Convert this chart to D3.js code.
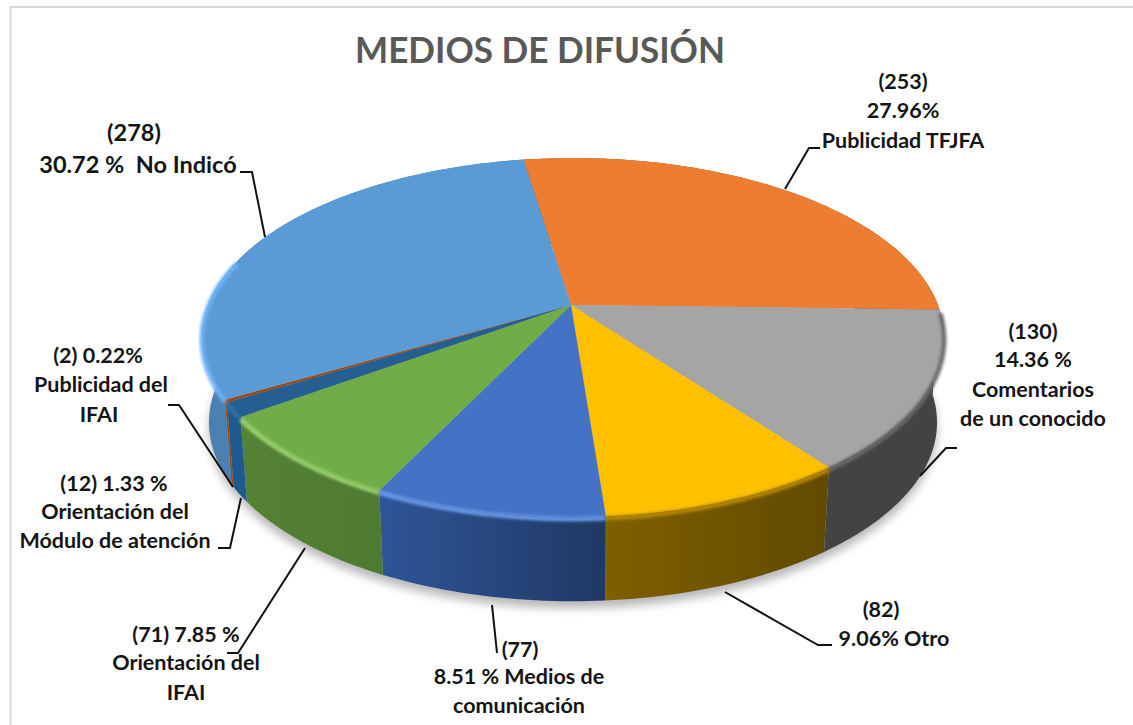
<!DOCTYPE html>
<html><head><meta charset="utf-8">
<script src="https://cdn.jsdelivr.net/npm/d3@7"></script>
<style>html,body{margin:0;padding:0;background:#fff}svg{display:block}
text{font-family:Lato,"Open Sans",sans-serif;font-weight:700;white-space:pre}</style></head>
<body><div id="c"></div>
<script>
const title = "MEDIOS DE DIFUSIÓN";
const categories = ["Publicidad TFJFA","Comentarios de un conocido","Otro","Medios de comunicación","Orientación del IFAI","Orientación del Módulo de atención","Publicidad del IFAI","No Indicó"];
const values = [253,130,82,77,71,12,2,278];
const topColors = ["#ed7d31","#a5a5a5","#ffc000","#4472c4","#70ad47","#255e91","#9e480e","#5b9bd5"];
const wallLeft  = ["#8a4a1d","#434343","#7f6000","#2f5597","#558235","#1f5a8e","#9e480e","#4a7fb0"];
const wallRight = ["#8a4a1d","#434343","#614a00","#203864","#4f7a33","#1f5a8e","#9e480e","#5b95cc"];
const rimColors = ["#c8652a","#6a6a6a","#b88a00","#6b9bee","#9bd66f","#2f6ea8","#c0561a","#6fb4f5"];
const labelLines = [
 ["(253)","27.96%","Publicidad TFJFA"],
 ["(130)","14.36 %","Comentarios","de un conocido"],
 ["(82)","9.06% Otro"],
 ["(77)","8.51 % Medios de","comunicación"],
 ["(71) 7.85 %","Orientación del","IFAI"],
 ["(12) 1.33 %","Orientación del","Módulo de atención"],
 ["(2) 0.22%","Publicidad del","IFAI"],
 ["(278)","30.72 %  No Indicó"]
];
// layout only
const labelSize = [21.5,21.5,21.5,21.5,21.5,21.5,21.5,23.5];
const labelX = [[903,903,903],[1033,1033,1033,1033],[881,894],[520,519,519],[186,186,186],[114,115,115],[98,101,99],[134,138]];
const labelY = [[89,118,148],[339,367,397,426],[617,646],[657,684,713],[642,670,700],[491,519,548],[363,392,422],[141,173]];
const leaders = [
 [[820,148],[809,148],[785,189]],
 [[957,448],[946,448],[920,476]],
 [[832,645],[818,645],[725,592]],
 [[497,653],[492,605]],
 [[227,653],[238,653],[305,548]],
 [[218,548],[230,548],[241,498]],
 [[168,405],[179,405],[233,487]],
 [[240,172],[252,172],[265,237]]
];
const W=1133,H=725;
const svg=d3.select("#c").append("svg").attr("width",W).attr("height",H);
const defs=svg.append("defs");
const blur=(id,s)=>defs.append("filter").attr("id",id).attr("x","-10%").attr("y","-10%").attr("width","120%").attr("height","130%")
  .append("feGaussianBlur").attr("stdDeviation",s);
blur("sh",5); blur("rim",1.6);

const apexX=571, cx=573, k=0.181;
const topF={ay:305,rx:365,ry:173.6};
const botF={ay:390,rx:358,ry:173};
const proj=(f,t)=>{const s=1/(1+k*Math.cos(t));return [cx+f.rx*Math.sin(t)*s,f.ay-f.ry*Math.cos(t)*s];};
const arcPts=(f,a,b)=>{const n=Math.max(2,Math.ceil(Math.abs(b-a)/0.02));return d3.range(n+1).map(i=>proj(f,a+(b-a)*i/n));};
const line=d3.line();
const rad=Math.PI/180;
const start=-9.2*rad;
const arcs=d3.pie().sort(null).startAngle(start).endAngle(start+2*Math.PI)(values);

svg.append("rect").attr("x",10.5).attr("y",7).attr("width",W+20).attr("height",H+20).attr("fill","#fff").attr("stroke","#d9d9d9").attr("stroke-width",2);

// shadow
svg.append("path").attr("d",line(arcPts({...botF,ay:botF.ay+7},0,2*Math.PI))+"Z").attr("fill","#000").attr("opacity",.28).attr("filter","url(#sh)");

// walls
arcs.forEach((d,i)=>{
  const g=defs.append("linearGradient").attr("id","w"+i);
  g.append("stop").attr("offset",0).attr("stop-color",wallLeft[i]);
  g.append("stop").attr("offset",1).attr("stop-color",wallRight[i]);
  const pts=arcPts(topF,d.startAngle,d.endAngle).concat(arcPts(botF,d.endAngle,d.startAngle));
  svg.append("path").attr("d",line(pts)+"Z").attr("fill",`url(#w${i})`);
});
// tops
arcs.forEach((d,i)=>{
  const pts=[[apexX,topF.ay]].concat(arcPts(topF,d.startAngle,d.endAngle));
  svg.append("path").attr("d",line(pts)+"Z").attr("fill",topColors[i]);
});
// bevel on the near side of the rim only
const nearFrom=92*rad, nearTo=285*rad;
arcs.forEach((d,i)=>{
  const a=Math.max(d.startAngle,nearFrom), b=Math.min(d.endAngle,nearTo);
  if(b<=a) return;
  svg.append("path").attr("d",line(arcPts({...topF,ay:topF.ay+2},a,b)))
    .attr("fill","none").attr("stroke",rimColors[i]).attr("stroke-width",4.5).attr("filter","url(#rim)");
});

// leaders
svg.append("g").selectAll("path").data(leaders).join("path").attr("d",d=>line(d))
  .attr("fill","none").attr("stroke","#111").attr("stroke-width",2);

// labels
labelLines.forEach((ls,i)=>ls.forEach((t,j)=>{
  svg.append("text").attr("x",labelX[i][j]).attr("y",labelY[i][j]).attr("text-anchor","middle")
    .attr("font-size",labelSize[i]).attr("fill","#151515").text(t);
}));
svg.append("text").attr("x",540).attr("y",63).attr("text-anchor","middle").attr("font-size",37)
  .attr("textLength",370).attr("lengthAdjust","spacingAndGlyphs").attr("fill","#595959").text(title);
</script></body></html>
